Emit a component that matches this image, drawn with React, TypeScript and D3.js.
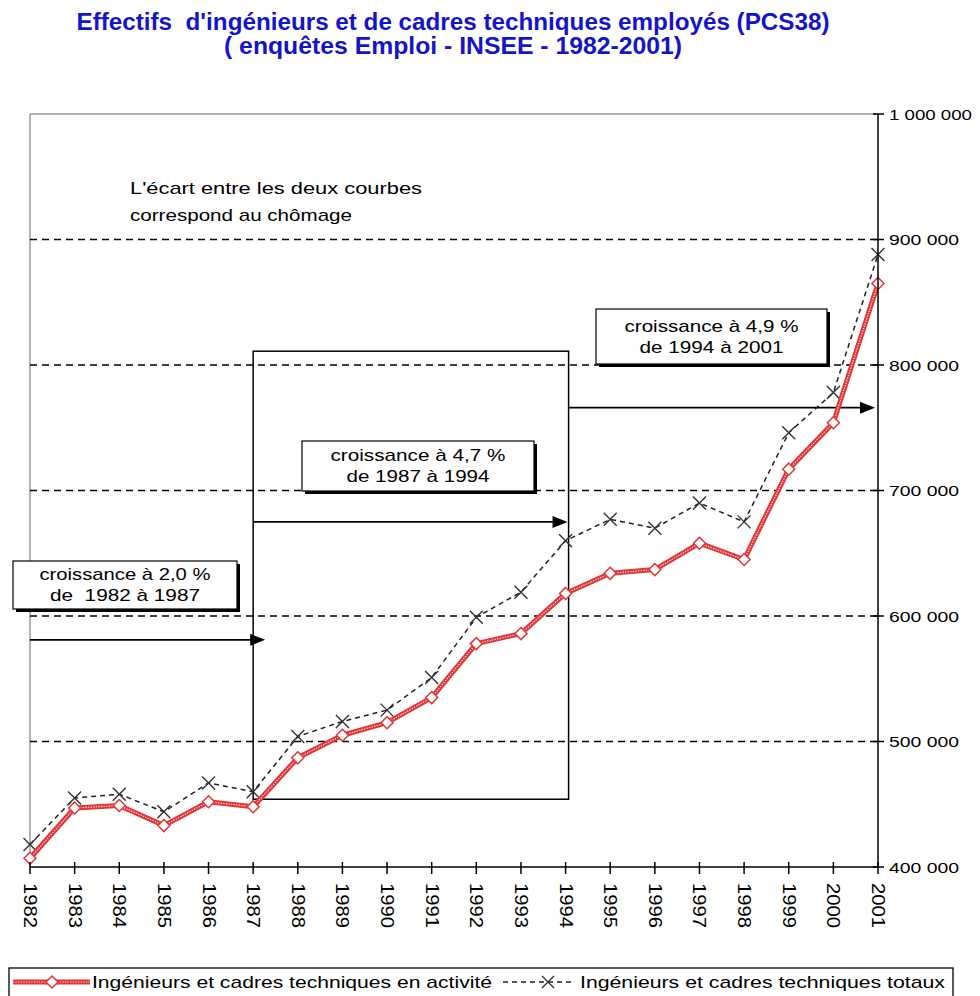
import React from "react";
import * as d3 from "d3";

const years = [1982, 1983, 1984, 1985, 1986, 1987, 1988, 1989, 1990, 1991, 1992, 1993, 1994, 1995, 1996, 1997, 1998, 1999, 2000, 2001];
const enActivite = [407000, 447000, 449000, 433000, 452000, 448000, 487000, 505000, 515000, 535000, 578000, 586000, 618000, 634000, 637000, 658000, 645000, 717000, 754000, 865000];
const totaux = [418000, 455000, 458000, 444000, 467000, 460000, 504000, 516000, 525000, 551000, 599000, 619000, 660000, 677000, 670000, 690000, 675000, 746000, 778000, 888000];
const yTicks = [400000, 500000, 600000, 700000, 800000, 900000, 1000000];
const yTickLabels = ["400 000", "500 000", "600 000", "700 000", "800 000", "900 000", "1 000 000"];
const gridValues = [500000, 600000, 700000, 800000, 900000];
const titleLines = [
  "Effectifs  d'ingénieurs et de cadres techniques employés (PCS38)",
  "( enquêtes Emploi - INSEE - 1982-2001)",
];
const noteLines = ["L'écart entre les deux courbes", "correspond au chômage"];
const growth = [
  { from: 1982, to: 1987, level: 581000, lines: ["croissance à 2,0 %", "de  1982 à 1987"] },
  { from: 1987, to: 1994, level: 675000, lines: ["croissance à 4,7 %", "de 1987 à 1994"] },
  { from: 1994, to: 2001, level: 766000, lines: ["croissance à 4,9 %", "de 1994 à 2001"] },
];
const legendLabels = [
  "Ingénieurs et cadres techniques en activité",
  "Ingénieurs et cadres techniques totaux",
];

const W = 980;
const H = 996;
const SANS = "'Liberation Sans', Arial, sans-serif";
const RED = "#e2353a";
const PRE = { whiteSpace: "pre" as const };

function Diamond({ cx, cy, r = 6 }: { cx: number; cy: number; r?: number }) {
  return (
    <path
      d={`M${cx},${cy - r}L${cx + r},${cy}L${cx},${cy + r}L${cx - r},${cy}Z`}
      fill="#fff"
      stroke={RED}
      strokeWidth={1.5}
    />
  );
}

function Cross({ cx, cy, r = 6.5 }: { cx: number; cy: number; r?: number }) {
  return (
    <path
      d={`M${cx - r},${cy - r}L${cx + r},${cy + r}M${cx - r},${cy + r}L${cx + r},${cy - r}`}
      stroke="#333"
      strokeWidth={1.4}
      fill="none"
    />
  );
}

function Arrow({ x1, x2, y }: { x1: number; x2: number; y: number }) {
  return (
    <g>
      <line x1={x1} x2={x2 - 10} y1={y} y2={y} stroke="#000" strokeWidth={1.6} />
      <path d={`M${x2},${y}L${x2 - 15},${y - 6}L${x2 - 15},${y + 6}Z`} fill="#000" />
    </g>
  );
}

function TextBox({ x, y, w, h, lines, lens }: { x: number; y: number; w: number; h: number; lines: string[]; lens: number[] }) {
  return (
    <g>
      <rect x={x + 3} y={y + 3} width={w} height={h} fill="#000" />
      <rect x={x} y={y} width={w} height={h} fill="#fff" stroke="#000" strokeWidth={1.2} />
      {lines.map((t, i) => (
        <text
          key={i}
          x={x + w / 2}
          y={y + h / 2 + (i === 0 ? -10.5 : 10.5)}
          textAnchor="middle"
          dominantBaseline="central"
          fontFamily={SANS}
          fontSize={17}
          textLength={lens[i]}
          lengthAdjust="spacingAndGlyphs"
          fill="#000"
          style={PRE}
        >
          {t}
        </text>
      ))}
    </g>
  );
}

export default function App() {
  const x = d3.scaleLinear().domain([1982, 2001]).range([30, 878]);
  const y = d3.scaleLinear().domain([400000, 1000000]).range([867, 114]);

  const redData = years.map((yr, i) => [x(yr), y(enActivite[i])] as [number, number]);
  const blackData = years.map((yr, i) => [x(yr), y(totaux[i])] as [number, number]);
  const line = d3.line();

  const x0 = x(1982);
  const x1 = x(2001);
  const yTop = y(1000000);
  const yBot = y(400000);

  const boxes = [
    { x: 13, y: 561, w: 224, h: 48, lens: [171, 150] },
    { x: 302, y: 441, w: 232, h: 50, lens: [175, 143] },
    { x: 596, y: 309, w: 231, h: 55, lens: [174, 144] },
  ];

  return (
    <svg
      width={W}
      height={H}
      style={{ position: "absolute", left: 0, top: 0, background: "#fff" }}
      xmlns="http://www.w3.org/2000/svg"
    >
      <rect x={0} y={0} width={W} height={H} fill="#fff" />

      {titleLines.map((t, i) => (
        <text
          key={i}
          x={453}
          y={i === 0 ? 30 : 54}
          textAnchor="middle"
          fontFamily="'Liberation Sans Narrow', 'Arial Narrow', 'Liberation Sans', Arial, sans-serif"
          fontWeight="bold"
          fontSize={23}
          fill="#1414c8"
          textLength={i === 0 ? 753 : 458}
          lengthAdjust="spacingAndGlyphs"
          style={PRE}
        >
          {t}
        </text>
      ))}

      <line x1={x0} x2={x1} y1={yTop} y2={yTop} stroke="#9a9a9a" strokeWidth={1.5} />
      <line x1={x0} x2={x0} y1={yTop} y2={yBot} stroke="#9a9a9a" strokeWidth={1.5} />

      {gridValues.map((v) => (
        <line
          key={v}
          x1={x0}
          x2={x1}
          y1={y(v)}
          y2={y(v)}
          stroke="#000"
          strokeWidth={1.4}
          strokeDasharray="7 5"
        />
      ))}

      {noteLines.map((t, i) => (
        <text
          key={i}
          x={130}
          y={188 + i * 27}
          dominantBaseline="central"
          fontFamily={SANS}
          fontSize={17}
          textLength={i === 0 ? 292 : 222}
          lengthAdjust="spacingAndGlyphs"
          fill="#000"
        >
          {t}
        </text>
      ))}

      <rect
        x={x(1987)}
        y={y(811000)}
        width={x(1994) - x(1987) + 3}
        height={y(454000) - y(811000)}
        fill="none"
        stroke="#000"
        strokeWidth={1.5}
      />

      {growth.map((g, i) => (
        <Arrow
          key={i}
          x1={i === 0 ? x(g.from) : x(g.from) + (i === 2 ? 3 : 0)}
          x2={x(g.to) + (i === 0 ? 12 : i === 1 ? 2 : -3)}
          y={y(g.level)}
        />
      ))}

      {growth.map((g, i) => (
        <TextBox key={i} {...boxes[i]} lines={g.lines} />
      ))}

      <path d={line(blackData) || ""} fill="none" stroke="#222" strokeWidth={1.5} strokeDasharray="5 4" />
      {blackData.map((p, i) => (
        <Cross key={i} cx={p[0]} cy={p[1]} />
      ))}

      <path d={line(redData) || ""} fill="none" stroke={RED} strokeWidth={5} strokeLinejoin="round" />
      <path
        d={line(redData) || ""}
        fill="none"
        stroke="#fff"
        strokeWidth={1.2}
        strokeDasharray="1.3 1.3"
        opacity={0.85}
      />
      {redData.map((p, i) => (
        <Diamond key={i} cx={p[0]} cy={p[1]} />
      ))}

      <line x1={x1} x2={x1} y1={yTop} y2={yBot} stroke="#000" strokeWidth={1.5} />
      {yTicks.map((v, i) => (
        <g key={v}>
          <line x1={x1 - 5} x2={x1 + 6} y1={y(v)} y2={y(v)} stroke="#000" strokeWidth={1.5} />
          <text
            x={889}
            y={y(v)}
            dominantBaseline="central"
            fontFamily={SANS}
            fontSize={15}
            textLength={v === 1000000 ? 83 : 70}
            lengthAdjust="spacingAndGlyphs"
            fill="#000"
          >
            {yTickLabels[i]}
          </text>
        </g>
      ))}

      <line x1={x0} x2={x1} y1={yBot} y2={yBot} stroke="#000" strokeWidth={1.5} />
      {years.map((yr) => (
        <g key={yr}>
          <line x1={x(yr)} x2={x(yr)} y1={yBot - 5} y2={yBot + 7} stroke="#000" strokeWidth={1.5} />
          <text
            transform={`translate(${x(yr)},${883}) rotate(90)`}
            dominantBaseline="central"
            fontFamily={SANS}
            fontSize={18}
            textLength={45}
            lengthAdjust="spacingAndGlyphs"
            fill="#000"
          >
            {yr}
          </text>
        </g>
      ))}

      <rect x={9} y={968} width={944} height={40} fill="none" stroke="#000" strokeWidth={1.3} />
      <line x1={13} x2={90} y1={982} y2={982} stroke={RED} strokeWidth={5} />
      <line x1={13} x2={90} y1={982} y2={982} stroke="#fff" strokeWidth={1.2} strokeDasharray="1.3 1.3" opacity={0.85} />
      <Diamond cx={52} cy={982} />
      <text
        x={92}
        y={982}
        dominantBaseline="central"
        fontFamily={SANS}
        fontSize={17}
        textLength={400}
        lengthAdjust="spacingAndGlyphs"
        fill="#000"
      >
        {legendLabels[0]}
      </text>
      <line x1={503} x2={572} y1={982} y2={982} stroke="#222" strokeWidth={1.5} strokeDasharray="5 4" />
      <Cross cx={548} cy={982} r={6} />
      <text
        x={580}
        y={982}
        dominantBaseline="central"
        fontFamily={SANS}
        fontSize={17}
        textLength={365}
        lengthAdjust="spacingAndGlyphs"
        fill="#000"
      >
        {legendLabels[1]}
      </text>
    </svg>
  );
}
